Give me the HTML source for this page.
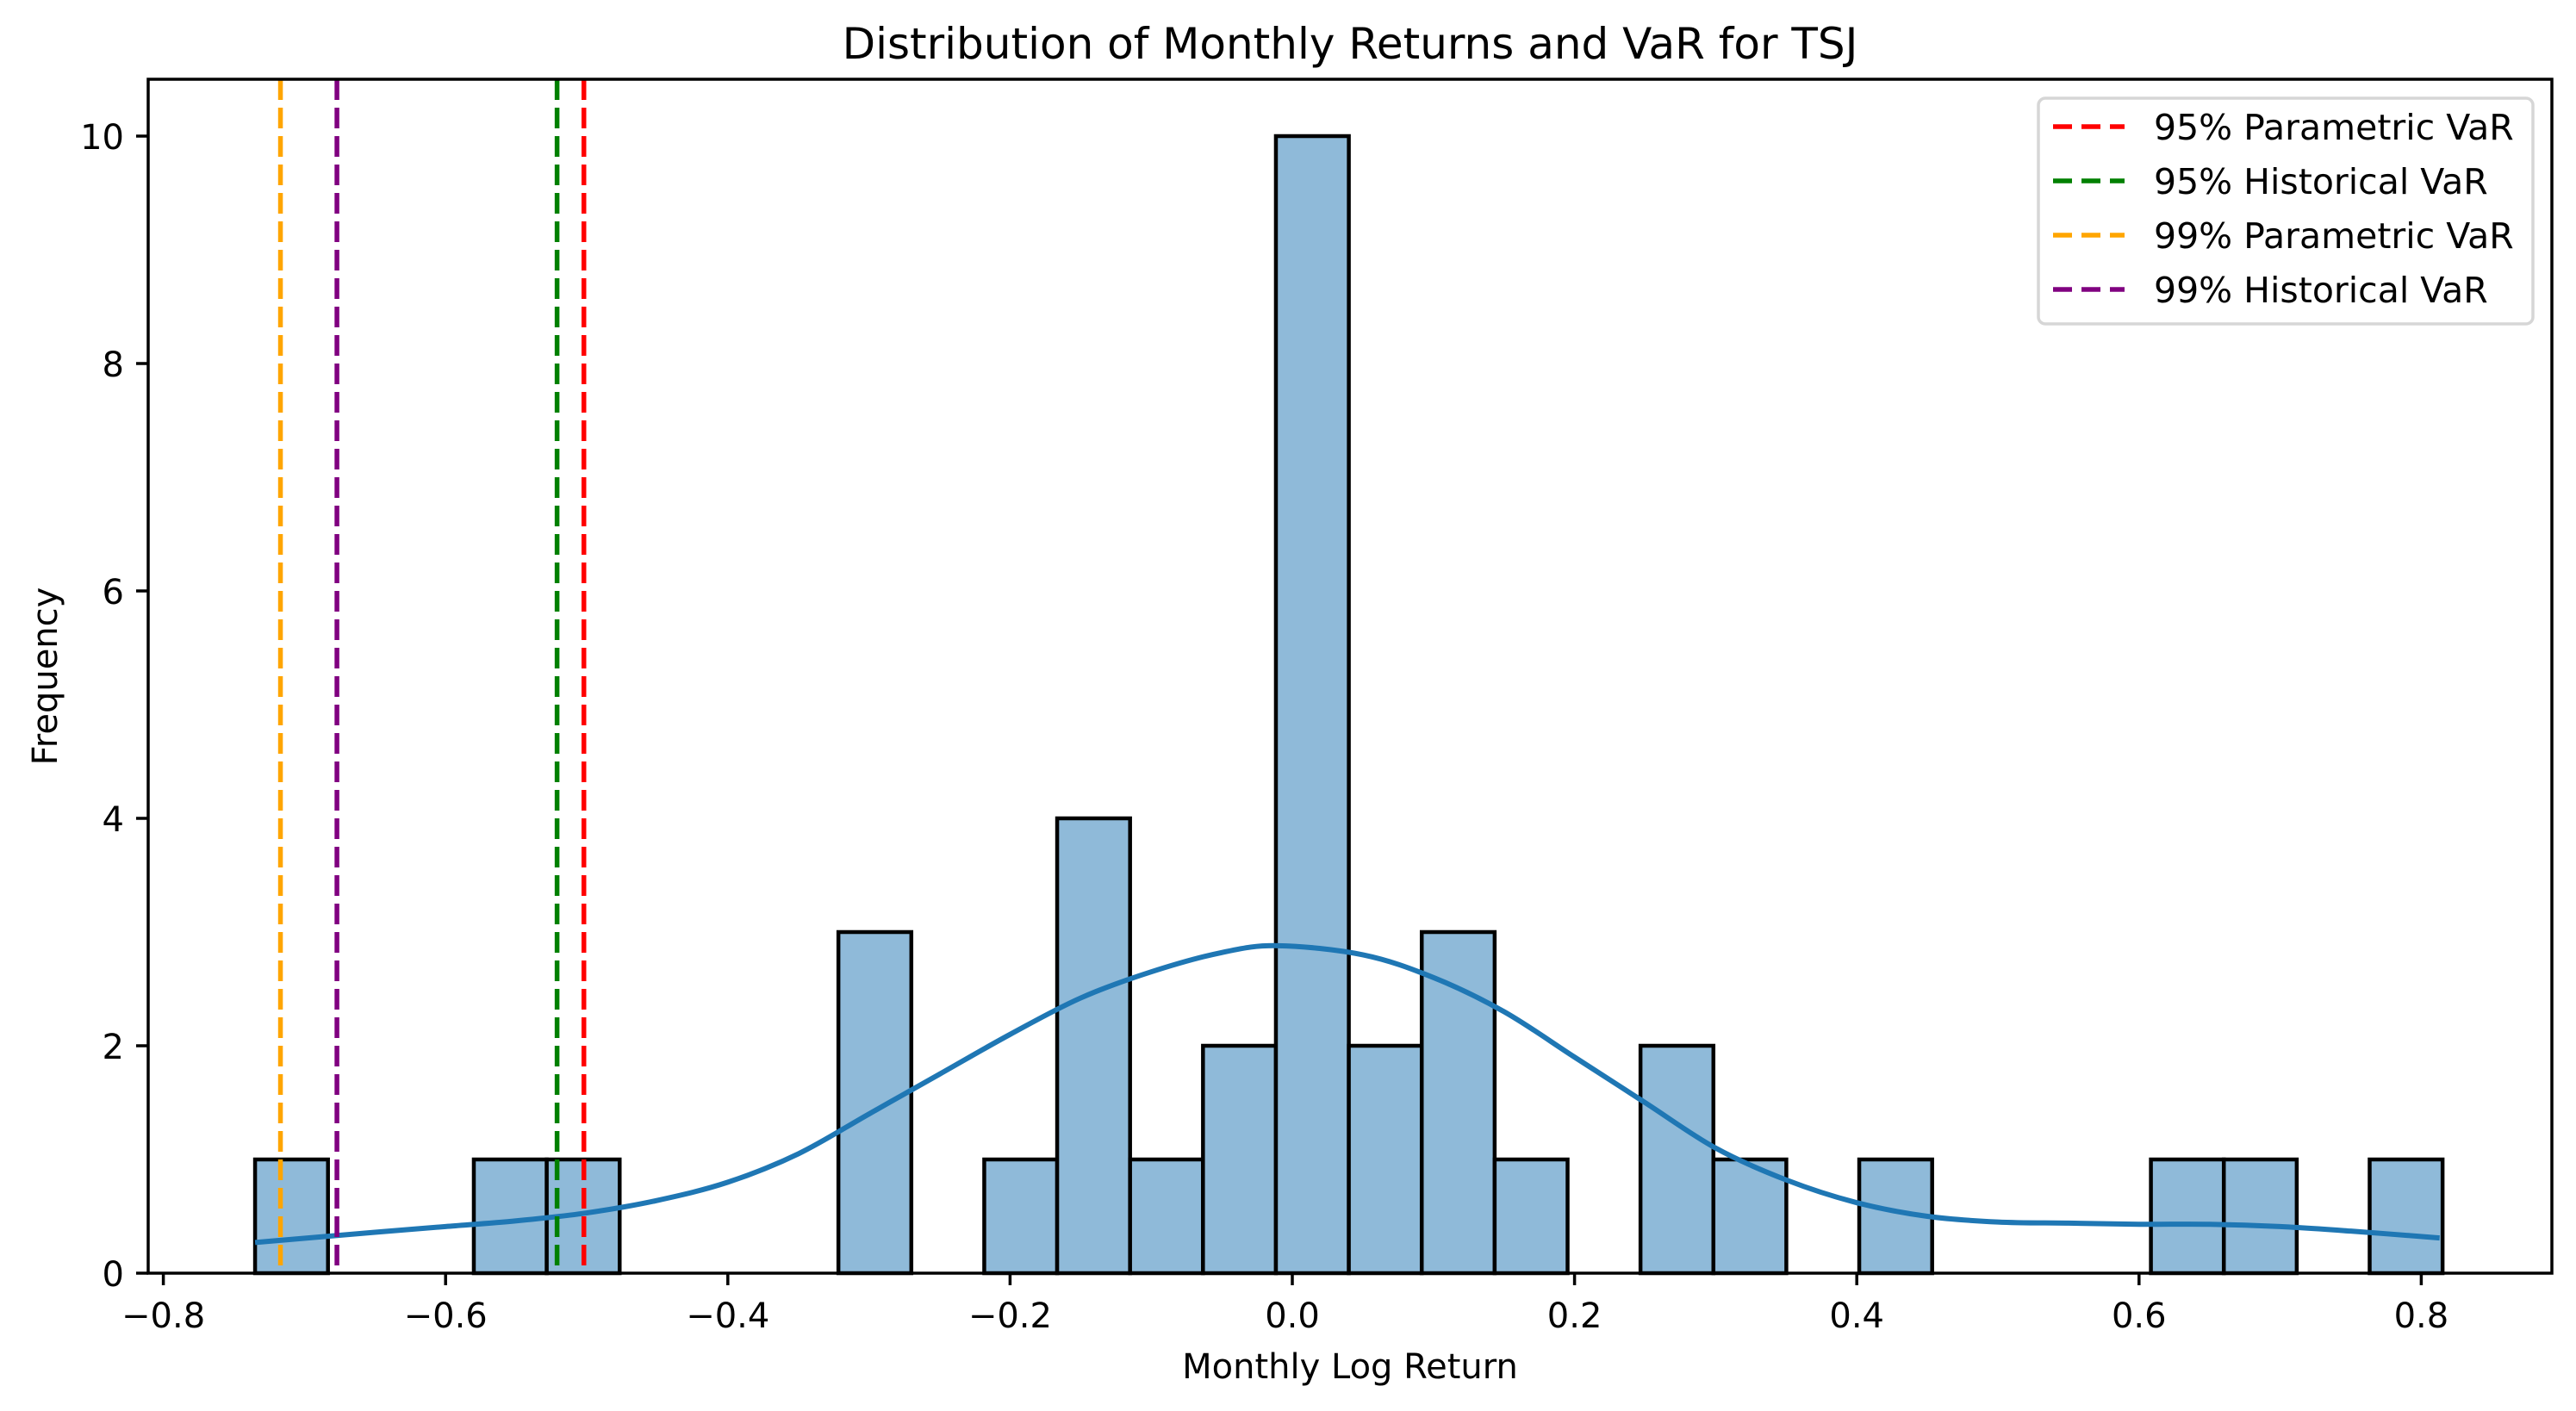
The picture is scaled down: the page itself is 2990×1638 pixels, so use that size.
<!DOCTYPE html>
<html><head><meta charset="utf-8"><style>
html,body{margin:0;padding:0;background:#fff;}
svg{display:block;font-family:"DejaVu Sans","Liberation Sans",sans-serif;}
</style></head><body>
<svg id="chart" width="2990" height="1638" viewBox="0 0 2990 1638">
<rect x="0" y="0" width="2990" height="1638" fill="#fff"/>
<g id="bars"></g>
<g id="kde"></g>
<g id="vlines"></g>
<g id="axes"></g>
<text x="1567" y="68" font-size="50" text-anchor="middle">Distribution of Monthly Returns and VaR for TSJ</text>
<text x="1567" y="1600" font-size="40" text-anchor="middle">Monthly Log Return</text>
<text x="66" y="785" font-size="40" text-anchor="middle" transform="rotate(-90 66 785)">Frequency</text>
<g id="legend"></g>
</svg>
<script>
const binStart = -0.735;
const binWidth = 0.05167;
const binCounts = [1,0,0,1,1,0,0,0,3,0,1,4,1,2,10,2,3,1,0,2,1,0,1,0,0,0,1,1,0,1];
const kdeX = [-0.735,-0.65,-0.6,-0.55,-0.5,-0.45,-0.4,-0.35,-0.3,-0.25,-0.2,-0.15,-0.1,-0.05,-0.01,0.05,0.1,0.15,0.2,0.25,0.3,0.35,0.4,0.45,0.5,0.55,0.6,0.65,0.7,0.75,0.813];
const kdeY = [0.27,0.36,0.41,0.46,0.53,0.64,0.8,1.05,1.4,1.75,2.1,2.42,2.65,2.82,2.88,2.8,2.6,2.3,1.9,1.5,1.1,0.82,0.62,0.5,0.45,0.44,0.43,0.43,0.41,0.37,0.31];
const varNames = ["95% Parametric VaR","95% Historical VaR","99% Parametric VaR","99% Historical VaR"];
const varValues = [-0.502,-0.521,-0.717,-0.677];
const varColors = ["#ff0000","#008000","#ffa500","#800080"];
const xTicks = [-0.8,-0.6,-0.4,-0.2,0.0,0.2,0.4,0.6,0.8];
const xTickLabels = ["\u22120.8","\u22120.6","\u22120.4","\u22120.2","0.0","0.2","0.4","0.6","0.8"];
const yTicks = [0,2,4,6,8,10];

const L=172,R=2962,T=92,B=1478;
const xs = v => 1500 + v*1638;
const ys = v => B - v*132;
const NS="http://www.w3.org/2000/svg";
function mk(tag, attrs, parent){const e=document.createElementNS(NS,tag);for(const k in attrs)e.setAttribute(k,attrs[k]);parent.appendChild(e);return e;}

const bars=document.getElementById('bars');
binCounts.forEach((c,i)=>{
  if(c<=0) return;
  const x0=xs(binStart+i*binWidth), x1=xs(binStart+(i+1)*binWidth);
  const r=mk('rect',{x:x0,y:ys(c),width:x1-x0,height:ys(0)-ys(c),fill:'#8fbad9',stroke:'#000','stroke-width':4.5},bars);
  
  
});

const kde=document.getElementById('kde');
const pts=kdeX.map((x,i)=>[xs(x),ys(kdeY[i])]);
let d='M'+pts[0][0]+','+pts[0][1];
for(let i=0;i<pts.length-1;i++){
  const p0=pts[Math.max(0,i-1)],p1=pts[i],p2=pts[i+1],p3=pts[Math.min(pts.length-1,i+2)];
  const c1=[p1[0]+(p2[0]-p0[0])/6,p1[1]+(p2[1]-p0[1])/6];
  const c2=[p2[0]-(p3[0]-p1[0])/6,p2[1]-(p3[1]-p1[1])/6];
  d+=' C'+c1[0]+','+c1[1]+' '+c2[0]+','+c2[1]+' '+p2[0]+','+p2[1];
}
const kp=mk('path',{d:d,fill:'none',stroke:'#1f77b4','stroke-width':6},kde);



const vl=document.getElementById('vlines');
varValues.forEach((v,i)=>{
  const l=mk('line',{x1:xs(v),x2:xs(v),y1:T,y2:B,stroke:varColors[i],'stroke-width':5.5,'stroke-dasharray':'24 9'},vl);
  
  
});

const ax=document.getElementById('axes');
mk('rect',{x:L,y:T,width:R-L,height:B-T,fill:'none',stroke:'#000','stroke-width':3.5},ax);
xTicks.forEach((v,i)=>{
  const x=xs(v);
  mk('line',{x1:x,x2:x,y1:B,y2:B+14,stroke:'#000','stroke-width':3.5},ax);
  const t=mk('text',{x:x,y:B+63,'font-size':40,'text-anchor':'middle'},ax);
  t.textContent=xTickLabels[i];
  
  
});
yTicks.forEach(v=>{
  const y=ys(v);
  mk('line',{x1:L-14,x2:L,y1:y,y2:y,stroke:'#000','stroke-width':3.5},ax);
  const t=mk('text',{x:L-28,y:y+15,'font-size':40,'text-anchor':'end'},ax);
  t.textContent=String(v);
  
  
});

const lg=document.getElementById('legend');
mk('rect',{x:2366,y:114,width:574,height:262,rx:8,fill:'#fff',stroke:'#d6d6d6','stroke-width':3.5},lg);
varNames.forEach((n,i)=>{
  const y=147+i*63;
  const g=mk('g',{},lg);
  
  
  mk('line',{x1:2383,x2:2466,y1:y,y2:y,stroke:varColors[i],'stroke-width':5.5,'stroke-dasharray':'22 11'},g);
  const t=mk('text',{x:2500,y:y+15,'font-size':41},g);
  t.textContent=n;
});
</script>
</body></html>
